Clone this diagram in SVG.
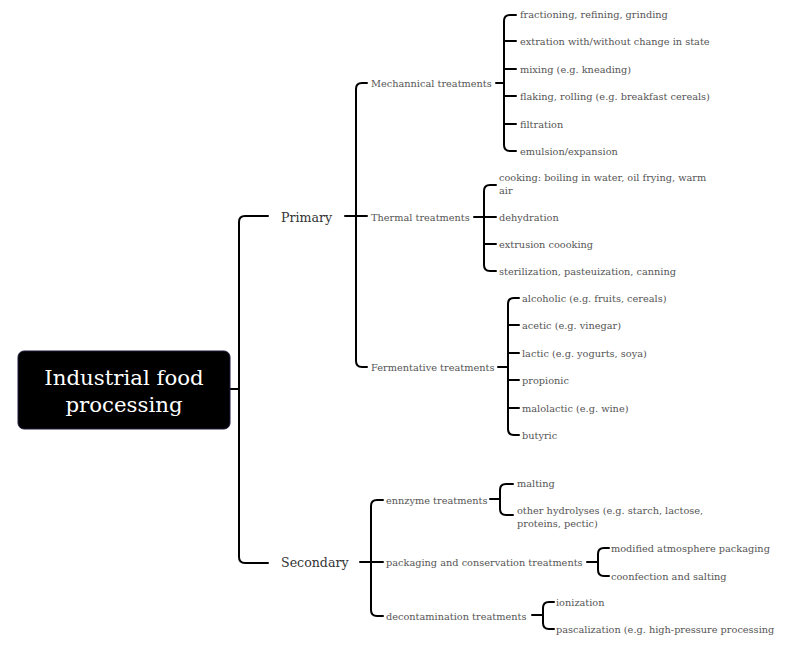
<svg xmlns="http://www.w3.org/2000/svg" width="789" height="647" viewBox="0 0 789 647">
<style>
.c{fill:none;stroke:#000;stroke-width:2;stroke-linecap:round;stroke-linejoin:round}
.t{font-family:"DejaVu Serif","Liberation Serif",serif;fill:#555;font-size:9.75px;dominant-baseline:central}
.m{font-family:"DejaVu Serif","Liberation Serif",serif;fill:#333;font-size:12.6px;dominant-baseline:central}
.r{font-family:"DejaVu Serif","Liberation Serif",serif;fill:#fff;font-size:21.3px;text-anchor:middle;dominant-baseline:central}
</style>
<rect width="789" height="647" fill="#fff"/>
<g id="connectors">
<path class="c" d="M230 389H239M268 216H245Q239 216 239 222V557Q239 563 245 563H268"/>
<path class="c" d="M345 216H367M367 83H362Q356 83 356 89V361Q356 367 362 367H367"/>
<path class="c" d="M496 83H504M516 15H510Q504 15 504 21V145Q504 151 510 151H516M504 41H516M504 69H516M504 96H516M504 124H516"/>
<path class="c" d="M474 217H496M496 185H490Q484 185 484 191V265Q484 271 490 271H496M484 244H496"/>
<path class="c" d="M498 367H508M519 298H514Q508 298 508 304V429Q508 435 514 435H519M508 325H519M508 353H519M508 380H519M508 408H519"/>
<path class="c" d="M360 562H383M383 500H377Q371 500 371 506V610Q371 616 377 616H383"/>
<path class="c" d="M490 499H500M513 484H506Q500 484 500 490V509Q500 515 506 515H513"/>
<path class="c" d="M587 562H598M609 548H604Q598 548 598 554V570Q598 576 604 576H609"/>
<path class="c" d="M532 615H543M554 602H549Q543 602 543 608V623Q543 629 549 629H554"/>
</g>
<g id="root">
<rect x="18" y="351" width="212" height="78" rx="6" fill="#000" stroke="#1a1a3a" stroke-width="1"/>
<text class="r" x="124" y="377">Industrial food</text>
<text class="r" x="124" y="404">processing</text>
</g>
<g id="primary"><text class="m" x="281" y="217">Primary</text></g>
<g id="secondary"><text class="m" x="281" y="562">Secondary</text></g>
<g id="mech"><text class="t" x="371" y="83">Mechannical treatments</text></g>
<g id="mech1"><text class="t" x="520" y="14">fractioning, refining, grinding</text></g>
<g id="mech2"><text class="t" x="520" y="41">extration with/without change in state</text></g>
<g id="mech3"><text class="t" x="520" y="69">mixing (e.g. kneading)</text></g>
<g id="mech4"><text class="t" x="520" y="96">flaking, rolling (e.g. breakfast cereals)</text></g>
<g id="mech5"><text class="t" x="520" y="124">filtration</text></g>
<g id="mech6"><text class="t" x="520" y="151">emulsion/expansion</text></g>
<g id="therm"><text class="t" x="371" y="217">Thermal treatments</text></g>
<g id="therm1"><text class="t" x="499" y="177">cooking: boiling in water, oil frying, warm</text><text class="t" x="499" y="190">air</text></g>
<g id="therm2"><text class="t" x="499" y="217">dehydration</text></g>
<g id="therm3"><text class="t" x="499" y="244">extrusion coooking</text></g>
<g id="therm4"><text class="t" x="499" y="271">sterilization, pasteuization, canning</text></g>
<g id="ferm"><text class="t" x="371" y="367">Fermentative treatments</text></g>
<g id="ferm1"><text class="t" x="522" y="298">alcoholic (e.g. fruits, cereals)</text></g>
<g id="ferm2"><text class="t" x="522" y="325">acetic (e.g. vinegar)</text></g>
<g id="ferm3"><text class="t" x="522" y="353">lactic (e.g. yogurts, soya)</text></g>
<g id="ferm4"><text class="t" x="522" y="380">propionic</text></g>
<g id="ferm5"><text class="t" x="522" y="408">malolactic (e.g. wine)</text></g>
<g id="ferm6"><text class="t" x="522" y="435">butyric</text></g>
<g id="enz"><text class="t" x="386" y="500">ennzyme treatments</text></g>
<g id="enz1"><text class="t" x="517" y="483">malting</text></g>
<g id="enz2"><text class="t" x="517" y="510">other hydrolyses (e.g. starch, lactose,</text><text class="t" x="517" y="523">proteins, pectic)</text></g>
<g id="pack"><text class="t" x="386" y="562">packaging and conservation treatments</text></g>
<g id="pack1"><text class="t" x="611" y="548">modified atmosphere packaging</text></g>
<g id="pack2"><text class="t" x="611" y="576">coonfection and salting</text></g>
<g id="deco"><text class="t" x="386" y="616">decontamination treatments</text></g>
<g id="deco1"><text class="t" x="556" y="602">ionization</text></g>
<g id="deco2"><text class="t" x="556" y="629">pascalization (e.g. high-pressure processing</text></g>
</svg>
